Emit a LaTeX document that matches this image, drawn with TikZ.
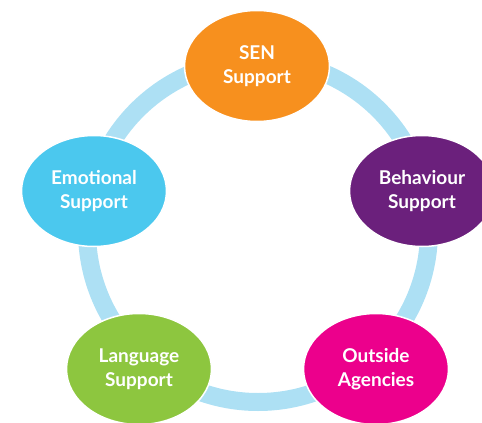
\documentclass[tikz,border=0pt]{standalone}
\usepackage{fontspec}
\setmainfont{Lato}
\usetikzlibrary{shapes.geometric}

\definecolor{ringblue}{HTML}{ADE0F4}
\definecolor{senorange}{HTML}{F7901E}
\definecolor{behpurple}{HTML}{6B207C}
\definecolor{outpink}{HTML}{EC008C}
\definecolor{langgreen}{HTML}{8DC63F}
\definecolor{emocyan}{HTML}{4BC8EE}

\begin{document}
\begin{tikzpicture}[x=1pt,y=-1pt,
  bubble/.style={ellipse,draw=white,line width=1.5pt,minimum width=145pt,
    minimum height=111pt,inner sep=0pt,text=white,align=center,
    font=\bfseries\fontsize{19}{24}\selectfont}]
    \useasboundingbox (0,0) rectangle (482,423);
    \clip (0,0) rectangle (482,423);

    % the ring behind the bubbles
    \coordinate (hub) at (258,231);
    \draw[ringblue,line width=18pt] (hub) circle (171pt);

    \node[bubble,fill=senorange] (sen) at (257,66) {SEN\\Support};
    \node[bubble,fill=behpurple] (beh) at (422,191) {Behaviour\\Support};
    \node[bubble,fill=outpink] (out) at (376,369) {Outside\\Agencies};
    \node[bubble,fill=langgreen] (lang) at (139,369) {Language\\Support};
    \node[bubble,fill=emocyan] (emo) at (94,191) {Emotional\\Support};
\end{tikzpicture}
\end{document}
